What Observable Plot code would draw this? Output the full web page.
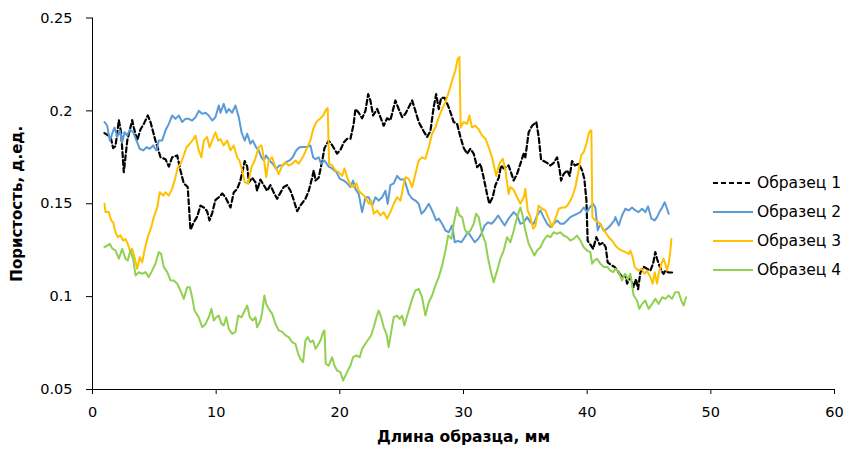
<!DOCTYPE html>
<html><head><meta charset="utf-8">
<script src="https://cdn.jsdelivr.net/npm/d3@7"></script>
<script src="https://cdn.jsdelivr.net/npm/@observablehq/plot@0.6"></script>
<style>
body{margin:0;background:#fff;font-family:"DejaVu Sans",Verdana,sans-serif;}
#wrap{position:relative;width:860px;height:452px;overflow:hidden;}
#legend{position:absolute;left:713px;top:168px;font-size:15.5px;color:#000;}
.row{display:flex;align-items:center;height:29px;white-space:nowrap;}
.row svg{width:40px;height:10px;margin-right:4px;}
</style></head><body>
<div id="wrap"><div id="chart"></div><div id="legend"></div></div>
<script>
const seriesNames = ["Образец 1","Образец 2","Образец 3","Образец 4"];
const seriesColors = ["#000000","#5B9BD5","#FFC000","#92D050"];
const xTicks = [0,10,20,30,40,50,60];
const yTicks = [0.05,0.1,0.15,0.2,0.25];
const yTickLabels = ["0.05","0.1","0.15","0.2","0.25"];
const xLabel = "Длина образца, мм";
const yLabel = "Пористость, д.ед.";

const series1 = [[0.97,0.188],[1.46,0.186],[1.67,0.180],[1.86,0.181],[2.13,0.195],[2.32,0.188],[2.53,0.167],[2.81,0.184],[3.21,0.195],[3.34,0.191],[3.61,0.184],[3.88,0.190],[4.15,0.193],[4.47,0.1975],[4.69,0.194],[5.09,0.184],[5.50,0.175],[5.90,0.174],[6.17,0.170],[6.44,0.175],[6.85,0.176],[7.11,0.168],[7.38,0.161],[7.70,0.159],[7.92,0.136],[8.19,0.140],[8.46,0.143],[8.73,0.149],[9.00,0.148],[9.27,0.146],[9.46,0.141],[9.68,0.145],[9.94,0.152],[10.21,0.1535],[10.49,0.1555],[10.75,0.1535],[11.16,0.148],[11.42,0.156],[11.70,0.158],[11.96,0.1625],[12.31,0.173],[12.51,0.170],[12.64,0.1615],[12.91,0.164],[13.18,0.1615],[13.31,0.157],[13.58,0.163],[13.85,0.160],[14.12,0.157],[14.39,0.160],[14.66,0.156],[14.93,0.1527],[15.20,0.156],[15.46,0.159],[15.74,0.160],[16.01,0.157],[16.27,0.152],[16.55,0.146],[16.81,0.149],[17.22,0.1527],[17.49,0.157],[17.76,0.164],[17.89,0.168],[18.03,0.1625],[18.29,0.164],[18.57,0.173],[18.76,0.180],[19.10,0.184],[19.38,0.1815],[19.78,0.177],[20.05,0.179],[20.32,0.183],[20.59,0.185],[20.86,0.185],[21.12,0.193],[21.26,0.201],[21.53,0.199],[21.80,0.196],[22.07,0.200],[22.29,0.209],[22.47,0.2056],[22.69,0.1975],[23.02,0.201],[23.28,0.1966],[23.55,0.192],[23.82,0.196],[24.09,0.195],[24.49,0.2056],[24.76,0.201],[25.04,0.1966],[25.30,0.1984],[25.85,0.2056],[26.11,0.200],[26.38,0.194],[26.78,0.189],[27.06,0.186],[27.32,0.189],[27.59,0.202],[27.79,0.209],[28.00,0.201],[28.19,0.207],[28.48,0.207],[28.80,0.202],[29.21,0.194],[29.48,0.193],[29.75,0.186],[30.02,0.180],[30.29,0.177],[30.56,0.1796],[30.82,0.177],[31.10,0.1697],[31.37,0.1715],[31.63,0.164],[31.91,0.155],[32.09,0.150],[32.36,0.1535],[32.58,0.160],[32.85,0.164],[33.04,0.1706],[33.25,0.169],[33.65,0.1706],[34.06,0.1625],[34.33,0.166],[34.60,0.1715],[34.87,0.177],[35.00,0.175],[35.27,0.1885],[35.55,0.192],[35.89,0.194],[36.08,0.186],[36.27,0.174],[36.48,0.173],[36.76,0.172],[37.03,0.1706],[37.29,0.172],[37.57,0.175],[37.78,0.168],[37.89,0.1625],[38.10,0.166],[38.38,0.168],[38.59,0.165],[38.78,0.173],[39.00,0.1706],[39.31,0.1715],[39.59,0.168],[39.77,0.1635],[39.94,0.1517],[40.04,0.130],[40.26,0.128],[40.48,0.1257],[40.74,0.132],[41.01,0.128],[41.29,0.129],[41.50,0.1266],[41.66,0.1185],[42.01,0.1167],[42.22,0.116],[42.55,0.113],[42.82,0.1105],[43.09,0.1115],[43.23,0.107],[43.49,0.1105],[43.76,0.105],[43.95,0.1095],[44.12,0.104],[44.30,0.113],[44.57,0.116],[44.84,0.115],[45.11,0.114],[45.33,0.1177],[45.51,0.124],[45.65,0.1204],[45.78,0.1177],[46.00,0.114],[46.18,0.1123],[46.32,0.114],[46.59,0.113],[46.86,0.113],[47.05,0.113]];

const series2 = [[0.97,0.194],[1.19,0.192],[1.40,0.184],[1.59,0.1877],[1.78,0.191],[2.00,0.186],[2.21,0.1894],[2.40,0.183],[2.59,0.1885],[2.81,0.1867],[3.02,0.190],[3.29,0.1885],[3.56,0.184],[3.82,0.1796],[4.10,0.1787],[4.37,0.1804],[4.63,0.1796],[4.91,0.1814],[5.17,0.1787],[5.36,0.184],[5.63,0.184],[5.90,0.1894],[6.17,0.193],[6.44,0.1975],[6.71,0.1957],[6.98,0.1975],[7.25,0.194],[7.51,0.1957],[7.78,0.1957],[8.06,0.1948],[8.33,0.1966],[8.59,0.200],[8.87,0.1984],[9.14,0.199],[9.40,0.1975],[9.68,0.1948],[9.94,0.1966],[10.21,0.2029],[10.35,0.199],[10.61,0.2038],[10.83,0.199],[11.02,0.201],[11.29,0.199],[11.56,0.2029],[11.83,0.1966],[12.05,0.1885],[12.31,0.184],[12.51,0.1877],[12.77,0.1823],[12.96,0.184],[13.23,0.1804],[13.44,0.1787],[13.66,0.175],[13.85,0.1733],[14.04,0.176],[14.31,0.1733],[14.58,0.1715],[14.85,0.1688],[15.12,0.1706],[15.38,0.1706],[15.66,0.1724],[15.93,0.1733],[16.19,0.175],[16.47,0.1787],[16.73,0.1804],[17.08,0.1805],[17.36,0.1805],[17.62,0.1814],[17.84,0.175],[18.03,0.174],[18.29,0.175],[18.49,0.1715],[18.76,0.1733],[19.10,0.170],[19.38,0.169],[19.73,0.167],[20.00,0.1634],[20.32,0.1625],[20.59,0.161],[20.86,0.159],[21.07,0.1625],[21.26,0.158],[21.53,0.1553],[21.80,0.1455],[22.07,0.1535],[22.34,0.1535],[22.61,0.149],[22.88,0.1535],[23.14,0.1517],[23.42,0.1535],[23.69,0.157],[23.87,0.150],[24.09,0.160],[24.36,0.161],[24.63,0.165],[24.90,0.163],[25.22,0.163],[25.57,0.1553],[25.85,0.1527],[26.11,0.1517],[26.38,0.150],[26.60,0.1446],[26.86,0.1464],[27.19,0.150],[27.46,0.1464],[27.79,0.141],[28.00,0.142],[28.27,0.1392],[28.54,0.1356],[28.80,0.1347],[29.08,0.1383],[29.29,0.1293],[29.56,0.130],[29.83,0.1293],[30.10,0.132],[30.37,0.1347],[30.64,0.132],[30.91,0.1293],[31.18,0.131],[31.45,0.1338],[31.71,0.1383],[31.99,0.140],[32.26,0.1392],[32.52,0.141],[32.80,0.1437],[33.06,0.141],[33.33,0.1383],[33.65,0.142],[34.06,0.1455],[34.33,0.1437],[34.60,0.1392],[34.87,0.140],[35.14,0.1428],[35.41,0.140],[35.68,0.1392],[35.95,0.1437],[36.22,0.1464],[36.48,0.1428],[36.76,0.1392],[37.03,0.1374],[37.29,0.1392],[37.57,0.141],[37.83,0.1392],[38.10,0.1392],[38.38,0.141],[38.64,0.1428],[38.91,0.1437],[39.18,0.1446],[39.45,0.1455],[39.72,0.148],[40.00,0.1455],[40.20,0.148],[40.48,0.150],[40.66,0.148],[40.85,0.1356],[41.07,0.1392],[41.33,0.1356],[41.61,0.1365],[41.88,0.1383],[42.20,0.141],[42.28,0.1428],[42.55,0.1383],[42.82,0.1437],[43.09,0.1473],[43.36,0.1464],[43.63,0.148],[43.90,0.1464],[44.16,0.1455],[44.44,0.1473],[44.71,0.1455],[44.92,0.1486],[45.19,0.142],[45.46,0.141],[45.65,0.1428],[45.84,0.1455],[46.06,0.148],[46.27,0.1508],[46.46,0.1473],[46.59,0.1446]];

const series3 = [[0.97,0.150],[1.05,0.1455],[1.32,0.1455],[1.51,0.141],[1.67,0.140],[1.86,0.1347],[2.05,0.132],[2.26,0.133],[2.48,0.1302],[2.67,0.131],[2.85,0.1284],[3.02,0.1248],[3.21,0.1257],[3.40,0.1212],[3.61,0.115],[3.82,0.1212],[4.02,0.1185],[4.20,0.1248],[4.47,0.132],[4.75,0.1374],[4.96,0.1428],[5.23,0.148],[5.44,0.1562],[5.72,0.1544],[5.90,0.1562],[6.17,0.1544],[6.44,0.158],[6.71,0.1643],[6.90,0.1697],[7.11,0.1715],[7.33,0.175],[7.60,0.1804],[7.87,0.1823],[8.19,0.185],[8.33,0.1867],[8.59,0.1787],[8.81,0.175],[9.00,0.184],[9.27,0.186],[9.46,0.1804],[9.68,0.184],[9.94,0.1885],[10.16,0.184],[10.35,0.1848],[10.61,0.1814],[10.89,0.184],[11.16,0.1787],[11.42,0.1814],[11.70,0.175],[11.88,0.1733],[12.10,0.168],[12.31,0.1616],[12.59,0.1607],[12.85,0.1697],[13.12,0.1733],[13.44,0.1804],[13.66,0.1814],[13.85,0.175],[14.04,0.1643],[14.25,0.1733],[14.53,0.175],[14.79,0.1697],[15.06,0.166],[15.34,0.1706],[15.60,0.1724],[15.87,0.1706],[16.14,0.1715],[16.41,0.1733],[16.68,0.1715],[17.08,0.176],[17.36,0.1804],[17.62,0.184],[17.84,0.190],[18.11,0.194],[18.38,0.1957],[18.65,0.1975],[18.92,0.201],[19.02,0.2015],[19.13,0.1715],[19.38,0.1706],[19.64,0.168],[19.91,0.167],[20.19,0.165],[20.37,0.169],[20.64,0.1634],[20.86,0.160],[21.12,0.159],[21.34,0.161],[21.53,0.157],[21.80,0.1553],[22.07,0.1535],[22.34,0.150],[22.53,0.1517],[22.74,0.1446],[23.02,0.1464],[23.28,0.1437],[23.55,0.1455],[23.82,0.142],[24.09,0.1455],[24.36,0.150],[24.63,0.1535],[24.90,0.1517],[25.17,0.1607],[25.30,0.1643],[25.57,0.1634],[25.85,0.159],[26.11,0.166],[26.38,0.1733],[26.65,0.175],[26.92,0.1742],[27.19,0.1804],[27.46,0.1877],[27.73,0.191],[28.00,0.1966],[28.27,0.201],[28.54,0.2047],[28.80,0.210],[29.08,0.2164],[29.34,0.2217],[29.53,0.228],[29.67,0.229],[29.77,0.191],[30.02,0.194],[30.29,0.193],[30.48,0.1975],[30.69,0.191],[30.96,0.192],[31.23,0.190],[31.50,0.1867],[31.77,0.185],[32.04,0.1804],[32.31,0.175],[32.64,0.165],[32.90,0.1715],[33.17,0.1742],[33.39,0.168],[33.65,0.1553],[33.79,0.159],[34.06,0.1575],[34.33,0.1535],[34.60,0.150],[34.87,0.1535],[35.00,0.158],[35.19,0.1464],[35.41,0.1428],[35.63,0.1365],[35.81,0.138],[36.08,0.149],[36.35,0.1473],[36.62,0.1464],[36.89,0.142],[37.16,0.1374],[37.43,0.142],[37.70,0.1473],[37.97,0.148],[38.24,0.148],[38.50,0.150],[38.78,0.1535],[39.05,0.159],[39.31,0.168],[39.51,0.176],[39.72,0.1778],[39.94,0.1823],[40.12,0.1877],[40.26,0.1894],[40.34,0.1894],[40.42,0.1428],[40.66,0.141],[40.93,0.140],[41.20,0.1374],[41.47,0.1347],[41.74,0.132],[42.01,0.1302],[42.28,0.1275],[42.55,0.1257],[42.82,0.1248],[43.09,0.124],[43.36,0.123],[43.49,0.1248],[43.68,0.1212],[43.84,0.116],[44.12,0.114],[44.38,0.115],[44.65,0.1123],[44.84,0.114],[45.11,0.1105],[45.30,0.107],[45.46,0.113],[45.65,0.107],[45.78,0.1123],[46.00,0.1177],[46.18,0.1204],[46.32,0.1177],[46.46,0.114],[46.59,0.1177],[46.73,0.1248],[46.81,0.131]];

const series4 = [[0.97,0.1266],[1.19,0.1275],[1.40,0.1284],[1.59,0.126],[1.86,0.1248],[2.13,0.1204],[2.40,0.1257],[2.67,0.1204],[2.85,0.1194],[3.07,0.1248],[3.29,0.120],[3.48,0.1114],[3.75,0.1132],[4.02,0.1123],[4.29,0.1132],[4.55,0.1105],[4.83,0.1141],[5.09,0.1177],[5.36,0.124],[5.55,0.123],[5.76,0.116],[6.04,0.1132],[6.31,0.1087],[6.58,0.1087],[6.85,0.1069],[7.11,0.1033],[7.38,0.0988],[7.66,0.1051],[7.87,0.1051],[8.06,0.0997],[8.25,0.0925],[8.59,0.0889],[8.87,0.0835],[9.14,0.0853],[9.40,0.0889],[9.62,0.0934],[9.81,0.0871],[10.00,0.0889],[10.21,0.0898],[10.43,0.0853],[10.61,0.0845],[10.81,0.0889],[11.02,0.0827],[11.29,0.080],[11.56,0.081],[11.78,0.0898],[12.05,0.0889],[12.31,0.0925],[12.51,0.0952],[12.72,0.0889],[12.96,0.0871],[13.18,0.0889],[13.31,0.0835],[13.58,0.0871],[13.72,0.0916],[13.90,0.1006],[14.04,0.0961],[14.25,0.0934],[14.53,0.0907],[14.79,0.0854],[15.06,0.0818],[15.34,0.081],[15.60,0.0791],[15.87,0.0782],[16.14,0.0755],[16.41,0.0746],[16.63,0.0692],[16.81,0.0665],[17.03,0.0647],[17.22,0.0764],[17.40,0.0782],[17.62,0.0755],[17.84,0.0764],[18.03,0.0719],[18.21,0.0737],[18.43,0.0764],[18.65,0.0809],[18.76,0.0818],[18.86,0.0638],[19.10,0.0629],[19.38,0.0674],[19.56,0.0629],[19.78,0.0602],[20.05,0.0593],[20.27,0.0548],[20.45,0.0575],[20.64,0.0602],[20.86,0.0629],[21.07,0.0674],[21.34,0.0683],[21.61,0.0674],[21.80,0.0719],[22.07,0.0746],[22.34,0.0773],[22.53,0.0791],[22.74,0.0835],[22.96,0.0889],[23.14,0.0925],[23.34,0.0889],[23.55,0.0835],[23.77,0.080],[23.95,0.0728],[24.15,0.0809],[24.36,0.0889],[24.63,0.0898],[24.84,0.088],[25.04,0.0898],[25.22,0.0845],[25.57,0.0925],[25.85,0.0988],[26.11,0.1033],[26.38,0.1042],[26.65,0.0997],[26.92,0.0898],[27.19,0.097],[27.46,0.1006],[27.73,0.106],[28.00,0.1105],[28.27,0.1167],[28.54,0.1248],[28.76,0.1329],[29.02,0.1311],[29.21,0.1392],[29.48,0.148],[29.67,0.1437],[29.89,0.1428],[30.10,0.1365],[30.29,0.1338],[30.56,0.1356],[30.82,0.1392],[31.02,0.1446],[31.23,0.1428],[31.50,0.1338],[31.77,0.1293],[31.99,0.1204],[32.26,0.1123],[32.44,0.1078],[32.72,0.1141],[32.98,0.1204],[33.25,0.1248],[33.52,0.132],[33.79,0.1293],[34.06,0.1356],[34.33,0.1428],[34.60,0.148],[34.78,0.1437],[35.00,0.1356],[35.27,0.1284],[35.55,0.1248],[35.73,0.1221],[35.95,0.1248],[36.22,0.1266],[36.48,0.1302],[36.76,0.1329],[37.03,0.132],[37.29,0.1347],[37.57,0.1338],[37.83,0.1347],[38.10,0.1329],[38.38,0.132],[38.64,0.1302],[38.91,0.1311],[39.18,0.1329],[39.45,0.1302],[39.72,0.1266],[40.00,0.1248],[40.26,0.124],[40.40,0.1177],[40.59,0.1195],[40.80,0.1204],[41.07,0.1177],[41.33,0.116],[41.61,0.116],[41.88,0.114],[42.10,0.1132],[42.28,0.115],[42.55,0.1132],[42.82,0.1087],[43.04,0.1123],[43.31,0.1096],[43.49,0.1123],[43.76,0.1006],[44.03,0.0979],[44.22,0.0934],[44.44,0.0961],[44.71,0.0979],[44.97,0.0934],[45.25,0.0961],[45.51,0.0988],[45.78,0.0961],[46.06,0.0997],[46.32,0.0988],[46.59,0.1006],[46.86,0.0988],[47.12,0.1024],[47.39,0.1024],[47.61,0.0979],[47.80,0.0952],[48.00,0.0997]];

const allSeries = [series1, series2, series3, series4];
const rows = allSeries.map((pts, k) => pts.map(([x, y]) => ({series: seriesNames[k], x, y})));

const chart = Plot.plot({
  width: 860,
  height: 452,
  marginLeft: 92,
  marginRight: 26,
  marginTop: 17.5,
  marginBottom: 63,
  style: {fontFamily: "'DejaVu Sans', Verdana, sans-serif", fontSize: "14.5px", color: "#000", background: "#fff"},
  x: {domain: [0, 60]},
  y: {domain: [0.05, 0.25]},
  marks: [
    ...rows.map((r, k) => Plot.line(r, {
      x: "x", y: "y",
      stroke: seriesColors[k],
      strokeWidth: k === 0 ? 2.2 : 2,
      strokeDasharray: k === 0 ? "5,3" : null,
      strokeLinejoin: "round"
    })),
    Plot.ruleX([0], {stroke: "#000", strokeWidth: 1}),
    Plot.ruleY([0.05], {stroke: "#000", strokeWidth: 1}),
    Plot.axisX({ticks: xTicks, tickSize: 5, tickPadding: 12, label: null, stroke: "#000"}),
    Plot.axisY({ticks: yTicks, tickSize: 6, tickPadding: 14, label: null, stroke: "#000",
      tickFormat: d => yTickLabels[yTicks.indexOf(d)]}),
    Plot.text([xLabel], {frameAnchor: "bottom", dy: 52, fontWeight: "bold", fill: "#000", fontSize: 15.5, textAnchor: "middle"}),
    Plot.text([yLabel], {frameAnchor: "left", dx: -75, rotate: -90, fontWeight: "bold", fill: "#000", fontSize: 15, textAnchor: "middle"})
  ]
});
document.getElementById("chart").appendChild(chart);

const legend = document.getElementById("legend");
seriesNames.forEach((name, k) => {
  const row = document.createElement("div");
  row.className = "row";
  const dash = k === 0 ? ' stroke-dasharray="5,3"' : '';
  row.innerHTML = `<svg viewBox="0 0 40 10"><line x1="0" y1="5" x2="40" y2="5" stroke="${seriesColors[k]}" stroke-width="2"${dash}/></svg><span>${name}</span>`;
  legend.appendChild(row);
});
</script>
</body></html>
